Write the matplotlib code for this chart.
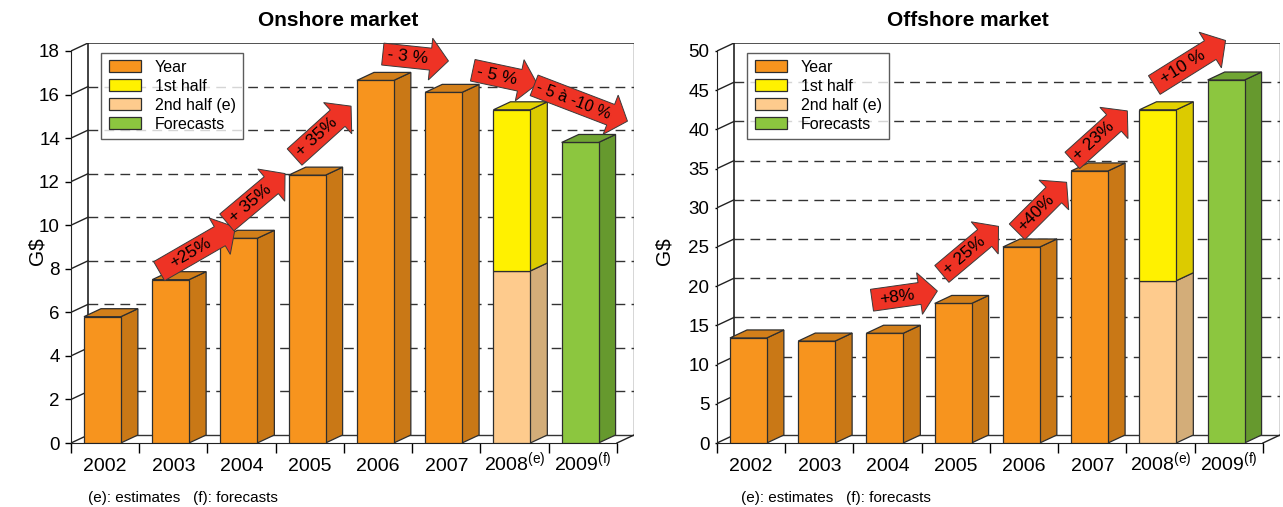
import matplotlib
matplotlib.use("Agg")
import matplotlib.pyplot as plt
from matplotlib.patches import Polygon, Patch
from matplotlib.transforms import Affine2D, ScaledTranslation

plt.rcParams['font.family'] = ['Liberation Sans', 'DejaVu Sans']
plt.rcParams['mathtext.fontset'] = 'custom'
plt.rcParams['mathtext.rm'] = 'Liberation Sans'

# data (G$)
years = ['2002', '2003', '2004', '2005', '2006', '2007',
         r'2008$^{\rm (e)}$', r'2009$^{\rm (f)}$']

onshore_year = [5.8, 7.5, 9.4, 12.3, 16.65, 16.1]
onshore_2008_h2 = 7.9      # lower part of the 2008 bar
onshore_2008_h1 = 7.4      # upper part of the 2008 bar
onshore_2009 = 13.8

offshore_year = [13.4, 13.0, 14.0, 17.8, 25.0, 34.7]
offshore_2008_h2 = 20.7
offshore_2008_h1 = 21.8
offshore_2009 = 46.3

onshore_growth = ['+25%', '+ 35%', '+ 35%', '- 3 %', '- 5 %', '- 5 à -10 %']
offshore_growth = ['+8%', '+ 25%', '+40%', '+ 23%', '+10 %']

# colours: (front, side, top)
ORANGE = ('#F7941E', '#C97816', '#D27F1A')
YELLOW = ('#FFF100', '#DCCB00', '#E3D200')
PEACH = ('#FECB8D', '#D3AD79', '#DDB880')
GREEN = ('#8CC63F', '#66992E', '#70A533')
RED = '#EE3325'
EDGE = '#2e2e2e'

fig = plt.figure(figsize=(12.83, 5.07), dpi=100)

DX = 0.25          # depth offset in category units
BAR_L, BAR_W = 0.19, 0.54


def bar3d(ax, i, y0, y1, col, dy, top=True):
    x0 = i + BAR_L
    x1 = x0 + BAR_W
    ax.add_patch(Polygon([(x1, y0), (x1 + DX, y0 + dy), (x1 + DX, y1 + dy), (x1, y1)],
                         fc=col[1], ec=EDGE, lw=0.9, zorder=3))
    ax.add_patch(Polygon([(x0, y0), (x1, y0), (x1, y1), (x0, y1)],
                         fc=col[0], ec=EDGE, lw=0.9, zorder=3))
    if top:
        ax.add_patch(Polygon([(x0, y1), (x1, y1), (x1 + DX, y1 + dy), (x0 + DX, y1 + dy)],
                             fc=col[2], ec=EDGE, lw=0.9, zorder=3))


def block_arrow(ax, x, y, ang, length, label, size=12.5):
    h = length / 2
    pts = [(-h, -11), (h - 18, -11), (h - 18, -21), (h, 0),
           (h - 18, 21), (h - 18, 11), (-h, 11)]
    tr = (Affine2D().scale(1 / fig.dpi).rotate_deg(ang) + fig.dpi_scale_trans
          + ScaledTranslation(x, y, ax.transData))
    ax.add_patch(Polygon(pts, closed=True, fc=RED, ec='#3a3a3a', lw=0.7,
                         transform=tr, zorder=5, clip_on=False))
    off = Affine2D().rotate_deg(ang).transform((-8, 0)) / fig.dpi
    ttr = ax.transData + ScaledTranslation(off[0], off[1], fig.dpi_scale_trans)
    ax.text(x, y, label, rotation=ang, rotation_mode='anchor', ha='center',
            va='center', fontsize=size, transform=ttr, zorder=6, clip_on=False)


def panel(rect, title, title_x, ymax, step, dy, year_vals, h2, h1, fc, arrows,
          growth, tick_len, label_x):
    ax = fig.add_axes(rect)
    n = len(years)
    ax.set_xlim(0, n + DX)
    ax.set_ylim(0, ymax + dy)

    # back wall grid
    for v in range(step, ymax, step):
        ax.plot([DX, n + DX], [v + dy, v + dy], color='#333333', lw=1,
                ls=(0, (7, 4.5)), zorder=1)
    ax.plot([DX, n + DX], [ymax + dy, ymax + dy], color='#333333', lw=1.2, zorder=1)
    ax.plot([DX, n + DX], [dy, dy], color='#333333', lw=1, zorder=1)
    ax.plot([DX, DX], [dy, ymax + dy], color='#222222', lw=1.2, zorder=1)
    ax.plot([n + DX, n + DX], [dy, ymax + dy], color='#333333', lw=1, zorder=1)
    # side wall and floor edges
    for v in range(0, ymax + 1, step):
        ax.plot([0, DX], [v, v + dy], color='#222222', lw=1, zorder=1)
    ax.plot([n, n + DX], [0, dy], color='#222222', lw=1, zorder=1)

    for i, v in enumerate(year_vals):
        bar3d(ax, i, 0, v, ORANGE, dy)
    bar3d(ax, 6, 0, h2, PEACH, dy, top=False)
    bar3d(ax, 6, h2, h2 + h1, YELLOW, dy)
    bar3d(ax, 7, 0, fc, GREEN, dy)

    for (x, y, ang, ln, sz), lab in zip(arrows, growth):
        block_arrow(ax, x, y, ang, ln, lab, sz)

    for s in ['top', 'right']:
        ax.spines[s].set_visible(False)
    ax.spines['left'].set_bounds(0, ymax)
    ax.spines['bottom'].set_bounds(0, n)
    ax.spines['left'].set_color('#222222')
    ax.spines['bottom'].set_color('#222222')

    ax.set_yticks(range(0, ymax + 1, step))
    ax.tick_params(axis='y', labelsize=13.5, length=tick_len, width=1, pad=4)
    ax.set_xticks(range(n + 1))
    ax.set_xticklabels([])
    ax.set_xticks([i + 0.5 for i in range(n)], minor=True)
    ax.set_xticklabels(years, minor=True)
    ax.tick_params(axis='x', which='major', length=7, width=1)
    ax.tick_params(axis='x', which='minor', length=0, labelsize=14, pad=20)
    for t in ax.get_xticklabels(minor=True):
        t.set_va('baseline')

    ax.set_ylabel('G$', fontsize=15)
    ax.yaxis.set_label_coords(label_x, 0.48)
    ax.set_title(title, fontsize=15, fontweight='bold', pad=12, x=title_x)

    handles = [Patch(fc=ORANGE[0], ec=EDGE, lw=0.9, label='Year'),
               Patch(fc=YELLOW[0], ec=EDGE, lw=0.9, label='1st half'),
               Patch(fc=PEACH[0], ec=EDGE, lw=0.9, label='2nd half (e)'),
               Patch(fc=GREEN[0], ec=EDGE, lw=0.9, label='Forecasts')]
    leg = ax.legend(handles=handles, loc='upper left', bbox_to_anchor=(0.054, 0.976),
                    fontsize=11.5, frameon=True, fancybox=False, borderpad=0.45,
                    labelspacing=0.25, handlelength=2.0, handleheight=0.8,
                    handletextpad=0.9, borderaxespad=0)
    leg.get_frame().set_edgecolor('#333333')
    leg.get_frame().set_linewidth(1)
    leg.set_zorder(4)
    return ax


ax1 = panel([71 / 1283, 64 / 507, 563 / 1283, 400 / 507], 'Onshore market', 0.474,
            18, 2, 0.367,
            onshore_year, onshore_2008_h2, onshore_2008_h1, onshore_2009,
            [(1.85, 8.9, 30, 88, 12.5), (2.71, 11.25, 40, 76, 12.5),
             (3.69, 14.3, 42, 76, 12.5), (5.05, 17.7, -6, 66, 12.5),
             (6.36, 16.8, -12, 66, 12.5), (7.47, 15.6, -21, 100, 11.5)],
            onshore_growth, 4, -0.044)

ax2 = panel([717 / 1283, 64 / 507, 563 / 1283, 400 / 507], 'Offshore market', 0.446,
            50, 5, 1.02,
            offshore_year, offshore_2008_h2, offshore_2008_h1, offshore_2009,
            [(2.75, 18.8, 8, 66, 12.5), (3.71, 24.6, 40, 74, 12.5),
             (4.76, 30.1, 45, 70, 12.5), (5.61, 39.2, 42, 74, 12.5),
             (6.93, 48.5, 32, 84, 12.5)],
            offshore_growth, 1.5, -0.078)

fig.text(88 / 1283, 1 - 498 / 507, '(e): estimates   (f): forecasts', fontsize=11, va='center')
fig.text(741 / 1283, 1 - 498 / 507, '(e): estimates   (f): forecasts', fontsize=11, va='center')

fig.savefig('out.png', dpi=100)
